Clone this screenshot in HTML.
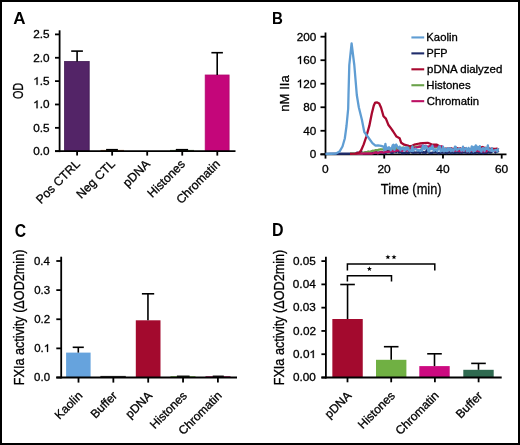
<!DOCTYPE html>
<html><head><meta charset="utf-8"><style>
html,body{margin:0;padding:0;background:#fff;}
svg{display:block;will-change:transform;}
text{font-family:"Liberation Sans", sans-serif;stroke:#000;stroke-width:0.3px;}
</style></head><body>
<svg width="520" height="445" viewBox="0 0 520 445">
<rect x="0" y="0" width="520" height="445" fill="#fff"/>
<text transform="translate(13.37,24.00) scale(0.9830,1)" font-size="17.31" font-weight="bold" style="stroke:none" fill="#000">A</text>
<text transform="translate(272.08,24.00) scale(0.8862,1)" font-size="17.02" font-weight="bold" style="stroke:none" fill="#000">B</text>
<text transform="translate(14.67,236.52) scale(0.8624,1)" font-size="18.23" font-weight="bold" style="stroke:none" fill="#000">C</text>
<text transform="translate(272.02,236.30) scale(0.9167,1)" font-size="17.45" font-weight="bold" style="stroke:none" fill="#000">D</text>
<rect x="64.60" y="61.50" width="24.60" height="89.70" fill="#532467" stroke="#3f1852" stroke-width="0.8"/>
<rect x="205.20" y="75.00" width="23.90" height="76.20" fill="#c4067a" stroke="#b0086e" stroke-width="0.8"/>
<rect x="100.50" y="149.90" width="23.50" height="1.30" fill="#9a6a40"/>
<rect x="170.00" y="149.90" width="24.00" height="1.30" fill="#5a7a4a"/>
<line x1="77.10" y1="61.50" x2="77.10" y2="51.10" stroke="#000" stroke-width="1.6" stroke-linecap="butt"/>
<line x1="71.20" y1="51.10" x2="82.90" y2="51.10" stroke="#000" stroke-width="1.6" stroke-linecap="butt"/>
<line x1="217.20" y1="75.00" x2="217.20" y2="52.70" stroke="#000" stroke-width="1.6" stroke-linecap="butt"/>
<line x1="211.40" y1="52.70" x2="222.90" y2="52.70" stroke="#000" stroke-width="1.6" stroke-linecap="butt"/>
<line x1="106.10" y1="149.80" x2="117.90" y2="149.80" stroke="#000" stroke-width="1.8" stroke-linecap="butt"/>
<line x1="175.80" y1="149.80" x2="188.10" y2="149.80" stroke="#000" stroke-width="1.8" stroke-linecap="butt"/>
<line x1="59.60" y1="30.30" x2="59.60" y2="152.10" stroke="#000" stroke-width="1.8" stroke-linecap="butt"/>
<line x1="55.00" y1="151.20" x2="235.50" y2="151.20" stroke="#000" stroke-width="1.8" stroke-linecap="butt"/>
<line x1="55.00" y1="151.20" x2="59.60" y2="151.20" stroke="#000" stroke-width="1.8" stroke-linecap="butt"/>
<line x1="55.00" y1="127.84" x2="59.60" y2="127.84" stroke="#000" stroke-width="1.8" stroke-linecap="butt"/>
<line x1="55.00" y1="104.48" x2="59.60" y2="104.48" stroke="#000" stroke-width="1.8" stroke-linecap="butt"/>
<line x1="55.00" y1="81.12" x2="59.60" y2="81.12" stroke="#000" stroke-width="1.8" stroke-linecap="butt"/>
<line x1="55.00" y1="57.76" x2="59.60" y2="57.76" stroke="#000" stroke-width="1.8" stroke-linecap="butt"/>
<line x1="55.00" y1="34.40" x2="59.60" y2="34.40" stroke="#000" stroke-width="1.8" stroke-linecap="butt"/>
<line x1="77.10" y1="151.20" x2="77.10" y2="155.60" stroke="#000" stroke-width="1.8" stroke-linecap="butt"/>
<line x1="112.15" y1="151.20" x2="112.15" y2="155.60" stroke="#000" stroke-width="1.8" stroke-linecap="butt"/>
<line x1="147.20" y1="151.20" x2="147.20" y2="155.60" stroke="#000" stroke-width="1.8" stroke-linecap="butt"/>
<line x1="182.25" y1="151.20" x2="182.25" y2="155.60" stroke="#000" stroke-width="1.8" stroke-linecap="butt"/>
<line x1="217.30" y1="151.20" x2="217.30" y2="155.60" stroke="#000" stroke-width="1.8" stroke-linecap="butt"/>
<text transform="translate(33.18,154.95) scale(1.0800,1)" font-size="10.90" fill="#000">0.0</text>
<text transform="translate(33.21,131.59) scale(1.0800,1)" font-size="10.90" fill="#000">0.5</text>
<polygon points="36.51,108.23 37.56,108.23 37.56,100.51 36.85,100.51 36.36,101.12 35.42,101.82 34.41,102.29 34.41,103.19 35.18,102.89 36.00,102.45 36.51,102.07" fill="#000" stroke="#000" stroke-width="0.3" stroke-linejoin="round"/>
<text transform="translate(39.72,108.23) scale(1.0800,1)" font-size="10.90" fill="#000">.</text>
<text transform="translate(43.00,108.23) scale(1.0800,1)" font-size="10.90" fill="#000">0</text>
<polygon points="36.54,84.87 37.59,84.87 37.59,77.15 36.88,77.15 36.39,77.76 35.44,78.46 34.44,78.93 34.44,79.83 35.21,79.53 36.03,79.09 36.54,78.71" fill="#000" stroke="#000" stroke-width="0.3" stroke-linejoin="round"/>
<text transform="translate(39.75,84.87) scale(1.0800,1)" font-size="10.90" fill="#000">.</text>
<text transform="translate(43.03,84.87) scale(1.0800,1)" font-size="10.90" fill="#000">5</text>
<text transform="translate(33.18,61.51) scale(1.0800,1)" font-size="10.90" fill="#000">2.0</text>
<text transform="translate(33.21,38.15) scale(1.0800,1)" font-size="10.90" fill="#000">2.5</text>
<text transform="translate(23.46,99.12) rotate(-90) scale(0.7553,1)" font-size="14.42" fill="#000">OD</text>
<text transform="translate(80.70,164.80) rotate(-45) scale(1.0000,1)" font-size="12.20" text-anchor="end" fill="#000">Pos CTRL</text>
<text transform="translate(115.75,164.80) rotate(-45) scale(1.0000,1)" font-size="12.20" text-anchor="end" fill="#000">Neg CTL</text>
<text transform="translate(150.80,164.80) rotate(-45) scale(1.0000,1)" font-size="12.20" text-anchor="end" fill="#000">pDNA</text>
<text transform="translate(185.85,164.80) rotate(-45) scale(1.0000,1)" font-size="12.20" text-anchor="end" fill="#000">Histones</text>
<text transform="translate(220.90,164.80) rotate(-45) scale(1.0000,1)" font-size="12.20" text-anchor="end" fill="#000">Chromatin</text>
<line x1="325.50" y1="32.50" x2="325.50" y2="155.20" stroke="#000" stroke-width="1.8" stroke-linecap="butt"/>
<line x1="320.50" y1="154.30" x2="506.50" y2="154.30" stroke="#000" stroke-width="1.8" stroke-linecap="butt"/>
<line x1="320.50" y1="154.30" x2="325.50" y2="154.30" stroke="#000" stroke-width="1.8" stroke-linecap="butt"/>
<text transform="translate(309.72,158.12) scale(1.0300,1)" font-size="11.40" fill="#000">0</text>
<line x1="320.50" y1="130.78" x2="325.50" y2="130.78" stroke="#000" stroke-width="1.8" stroke-linecap="butt"/>
<text transform="translate(303.21,134.60) scale(1.0300,1)" font-size="11.40" fill="#000">40</text>
<line x1="320.50" y1="107.26" x2="325.50" y2="107.26" stroke="#000" stroke-width="1.8" stroke-linecap="butt"/>
<text transform="translate(303.21,111.08) scale(1.0300,1)" font-size="11.40" fill="#000">80</text>
<line x1="320.50" y1="83.74" x2="325.50" y2="83.74" stroke="#000" stroke-width="1.8" stroke-linecap="butt"/>
<polygon points="299.98,87.56 301.03,87.56 301.03,79.49 300.32,79.49 299.83,80.13 298.89,80.86 297.89,81.35 297.89,82.29 298.66,81.98 299.48,81.52 299.98,81.12" fill="#000" stroke="#000" stroke-width="0.3" stroke-linejoin="round"/>
<text transform="translate(303.19,87.56) scale(1.0300,1)" font-size="11.40" fill="#000">2</text>
<text transform="translate(309.72,87.56) scale(1.0300,1)" font-size="11.40" fill="#000">0</text>
<line x1="320.50" y1="60.22" x2="325.50" y2="60.22" stroke="#000" stroke-width="1.8" stroke-linecap="butt"/>
<polygon points="299.98,64.04 301.03,64.04 301.03,55.97 300.32,55.97 299.83,56.61 298.89,57.34 297.89,57.83 297.89,58.77 298.66,58.46 299.48,58.00 299.98,57.60" fill="#000" stroke="#000" stroke-width="0.3" stroke-linejoin="round"/>
<text transform="translate(303.19,64.04) scale(1.0300,1)" font-size="11.40" fill="#000">6</text>
<text transform="translate(309.72,64.04) scale(1.0300,1)" font-size="11.40" fill="#000">0</text>
<line x1="320.50" y1="36.70" x2="325.50" y2="36.70" stroke="#000" stroke-width="1.8" stroke-linecap="butt"/>
<text transform="translate(296.66,40.52) scale(1.0300,1)" font-size="11.40" fill="#000">200</text>
<line x1="325.50" y1="154.30" x2="325.50" y2="158.60" stroke="#000" stroke-width="1.8" stroke-linecap="butt"/>
<text transform="translate(322.06,173.42) scale(1.0500,1)" font-size="11.40" fill="#000">0</text>
<line x1="384.23" y1="154.30" x2="384.23" y2="158.60" stroke="#000" stroke-width="1.8" stroke-linecap="butt"/>
<text transform="translate(377.42,173.42) scale(1.0500,1)" font-size="11.40" fill="#000">20</text>
<line x1="442.97" y1="154.30" x2="442.97" y2="158.60" stroke="#000" stroke-width="1.8" stroke-linecap="butt"/>
<text transform="translate(436.31,173.42) scale(1.0500,1)" font-size="11.40" fill="#000">40</text>
<line x1="501.70" y1="154.30" x2="501.70" y2="158.60" stroke="#000" stroke-width="1.8" stroke-linecap="butt"/>
<text transform="translate(494.88,173.42) scale(1.0500,1)" font-size="11.40" fill="#000">60</text>
<text transform="translate(380.81,194.41) scale(0.8604,1)" font-size="14.91" fill="#000">Time (min)</text>
<text transform="translate(289.27,111.69) rotate(-90) scale(0.9748,1)" font-size="13.48" fill="#000">nM IIa</text>
<line x1="411.40" y1="37.45" x2="424.20" y2="37.45" stroke="#5f9dd3" stroke-width="2.1" stroke-linecap="butt"/>
<text transform="translate(426.37,41.05) scale(1.0719,1)" font-size="10.5" fill="#000">Kaolin</text>
<line x1="411.40" y1="53.38" x2="424.20" y2="53.38" stroke="#1f2c6b" stroke-width="2.1" stroke-linecap="butt"/>
<text transform="translate(426.41,56.98) scale(1.0313,1)" font-size="10.5" fill="#000">PFP</text>
<line x1="411.40" y1="69.31" x2="424.20" y2="69.31" stroke="#a8082f" stroke-width="2.1" stroke-linecap="butt"/>
<text transform="translate(427.05,72.91) scale(1.0946,1)" font-size="10.5" fill="#000">pDNA dialyzed</text>
<line x1="411.40" y1="85.24" x2="424.20" y2="85.24" stroke="#6aa24a" stroke-width="2.1" stroke-linecap="butt"/>
<text transform="translate(426.36,88.84) scale(1.0856,1)" font-size="10.5" fill="#000">Histones</text>
<line x1="411.40" y1="101.17" x2="424.20" y2="101.17" stroke="#bc1163" stroke-width="2.1" stroke-linecap="butt"/>
<text transform="translate(426.73,104.77) scale(1.0800,1)" font-size="10.5" fill="#000">Chromatin</text>
<polyline points="325.50,153.90 356.00,153.50 357.00,152.75 358.40,152.95 359.80,152.89 361.20,152.03 362.60,153.13 364.00,153.08 365.40,152.56 366.80,152.65 368.20,152.02 369.60,152.34 371.00,152.92 372.40,152.96 373.80,152.74 375.20,152.00 376.60,152.25 378.00,153.18 379.40,152.35 380.80,152.65 382.20,152.25 383.60,152.83 385.00,153.07 386.40,152.43 387.80,150.44 389.20,149.99 390.60,152.41 392.00,152.98 393.40,152.38 394.80,149.63 396.20,152.03 397.60,149.85 399.00,152.44 400.40,150.58 401.80,153.15 403.20,152.91 404.60,153.13 406.00,152.43 407.40,152.93 408.80,152.90 410.20,149.67 411.60,152.11 413.00,152.73 414.40,152.41 415.80,152.65 417.20,152.38 418.60,152.09 420.00,152.83 421.40,149.62 422.80,152.64 424.20,152.28 425.60,152.99 427.00,149.70 428.40,152.04 429.80,153.01 431.20,152.88 432.60,152.76 434.00,152.13 435.40,152.18 436.80,152.35 438.20,153.20 439.60,153.17 441.00,152.59 442.40,152.57 443.80,152.48 445.20,152.45 446.60,153.15 448.00,152.60 449.40,152.11 450.80,152.94 452.20,152.43 453.60,152.93 455.00,152.80 456.40,152.44 457.80,152.34 459.20,152.92 460.60,152.35 462.00,152.78 463.40,152.01 464.80,152.30 466.20,152.56 467.60,152.78 469.00,152.42 470.40,152.89 471.80,152.42 473.20,153.04 474.60,153.17 476.00,152.62 477.40,152.20 478.80,153.12 480.20,152.83 481.60,152.88 483.00,152.94 484.40,152.80 485.80,152.75 487.20,152.76 488.60,152.03 490.00,152.53 491.40,152.26 492.80,150.23 494.20,150.64 495.60,152.38 497.00,150.24 498.40,152.46" fill="none" stroke="#1f2c6b" stroke-width="2.4" stroke-linejoin="round" stroke-linecap="butt"/>
<polyline points="350.00,153.70 362.00,153.50 363.00,152.82 364.60,152.35 366.20,152.55 367.80,151.67 369.40,151.83 371.00,151.35 372.60,150.74 374.20,150.89 375.80,150.12 377.40,150.21 379.00,149.55 380.60,149.27 382.20,149.44 383.80,149.74 385.40,148.93 387.00,148.92 388.60,149.22 390.20,149.43 391.80,148.96 393.40,148.67 395.00,149.14 396.60,148.11 398.20,148.81 399.80,148.14 401.40,147.88 403.00,147.75 404.60,147.84 406.20,148.24 407.80,147.49 409.40,147.79 411.00,147.74 412.60,147.37 414.20,147.43 415.80,146.84 417.40,146.73 419.00,146.77 420.60,147.19 422.20,146.95 423.80,146.86 425.40,147.15 427.00,147.03 428.60,146.90 430.20,147.41 431.80,147.33 433.40,146.89 435.00,147.24 436.60,147.21 438.20,147.64 439.80,148.01 441.40,148.09 443.00,149.31 444.60,148.96 446.20,149.72 447.80,150.07 449.40,149.48 451.00,149.84 452.60,149.40 454.20,150.05 455.80,150.16 457.40,149.98 459.00,150.30 460.60,149.75 462.20,150.15 463.80,150.06 465.40,150.06 467.00,149.95 468.60,150.35 470.20,150.47 471.80,150.02 473.40,150.22 475.00,149.63 476.60,150.29 478.20,150.25 479.80,150.61 481.40,150.46 483.00,149.93 484.60,150.05 486.20,150.35 487.80,149.72 489.40,150.17 491.00,149.89 492.60,149.86 494.20,149.81 495.80,150.54 497.40,149.91" fill="none" stroke="#6aa24a" stroke-width="2.3" stroke-linejoin="round" stroke-linecap="butt"/>
<polyline points="355.00,153.70 372.00,153.50 373.00,153.26 374.60,152.70 376.20,152.37 377.80,153.28 379.40,152.70 381.00,151.91 382.60,152.54 384.20,152.40 385.80,151.65 387.40,151.80 389.00,151.74 390.60,151.32 392.20,150.81 393.80,151.33 395.40,150.87 397.00,150.56 398.60,150.45 400.20,150.22 401.80,150.91 403.40,150.18 405.00,149.63 406.60,150.56 408.20,150.06 409.80,149.91 411.40,148.03 413.00,147.45 414.60,148.14 416.20,147.47 417.80,147.16 419.40,146.51 421.00,146.32 422.60,145.64 424.20,146.28 425.80,145.86 427.40,146.72 429.00,146.35 430.60,145.77 432.20,145.52 433.80,146.26 435.40,146.36 437.00,145.83 438.60,146.44 440.20,147.12 441.80,146.30 443.40,148.83 445.00,149.59 446.60,150.30 448.20,150.68 449.80,148.71 451.40,150.92 453.00,150.82 454.60,150.87 456.20,150.27 457.80,150.49 459.40,151.06 461.00,150.84 462.60,151.07 464.20,150.13 465.80,150.29 467.40,151.29 469.00,150.13 470.60,150.38 472.20,150.88 473.80,150.59 475.40,150.85 477.00,150.30 478.60,151.04 480.20,150.76 481.80,151.15 483.40,151.32 485.00,151.13 486.60,151.34 488.20,149.28 489.80,150.52 491.40,150.43 493.00,149.60 494.60,150.91 496.20,150.84 497.80,150.97" fill="none" stroke="#bc1163" stroke-width="2.3" stroke-linejoin="round" stroke-linecap="butt"/>
<polyline points="350.00,153.80 356.00,153.60 359.50,152.40 361.30,150.00 363.70,144.40 366.20,137.00 369.30,125.90 371.80,113.50 373.80,105.50 375.20,102.60 377.20,102.50 379.20,103.50 381.10,107.70 383.50,116.20 385.90,118.60 388.30,124.70 391.40,128.90 393.20,131.50 396.50,136.60 399.60,138.20 401.20,142.80 404.20,144.70 408.80,145.80 411.20,146.20 414.20,144.70 419.60,143.50 423.00,143.20 427.70,142.80 431.50,144.30 436.90,144.70 440.00,146.50 441.00,148.43 442.60,148.61 444.20,149.15 445.80,148.53 447.40,148.62 449.00,148.76 450.60,148.22 452.20,148.71 453.80,148.90 455.40,149.16 457.00,148.21 458.60,148.53 460.20,148.26 461.80,149.29 463.40,149.16 465.00,148.27 466.60,149.62 468.20,149.62 469.80,149.21 471.40,149.00 473.00,148.17 474.60,147.78 476.20,148.32 477.80,147.47 479.40,147.47 481.00,147.36 482.60,147.02 484.20,147.82 485.80,147.99 487.40,148.75 489.00,148.50 490.60,148.82 492.20,148.70 493.80,149.00 495.40,148.78 497.00,148.60 498.60,149.68" fill="none" stroke="#a8082f" stroke-width="2.3" stroke-linejoin="round" stroke-linecap="butt"/>
<polyline points="325.50,154.00 336.00,153.50 339.50,151.60 342.50,146.50 344.80,138.50 346.50,126.00 348.20,108.50 348.50,95.00 349.30,65.00 351.60,43.40 354.30,65.00 356.80,95.00 358.80,107.30 361.90,119.70 364.30,132.00 368.00,137.00 372.40,143.10 375.50,145.60 378.00,145.40 381.00,145.80 383.50,146.60 384.50,150.14 385.40,143.83 386.30,149.35 387.20,147.81 388.10,148.88 389.00,147.27 389.90,148.12 390.80,150.28 391.70,148.66 392.60,145.45 393.50,144.74 394.40,149.91 395.30,145.45 396.20,144.48 398.00,148.00 398.80,148.52 399.60,146.60 400.40,150.32 401.20,148.03 402.00,148.94 402.80,148.98 403.60,147.75 404.40,150.49 405.20,150.01 406.00,147.45 406.80,149.47 407.60,147.35 408.40,149.04 409.20,150.59 410.00,150.76 410.80,150.32 411.60,150.84 412.40,146.45 413.20,150.98 414.00,149.70 414.80,149.26 415.60,148.67 416.40,149.57 417.20,149.95 418.00,150.63 418.80,149.93 419.60,150.66 420.40,150.84 421.20,150.13 422.00,150.59 422.80,145.58 423.60,145.68 424.40,149.03 425.20,148.60 426.00,146.02 426.80,147.68 427.60,148.78 428.40,151.27 429.20,151.35 430.00,147.86 430.80,147.70 431.60,149.14 432.40,145.72 433.20,148.81 434.00,151.04 434.80,149.40 435.60,150.11 436.40,149.80 437.20,151.26 439.00,146.39 439.80,146.38 440.60,151.39 441.40,150.81 442.20,149.94 443.00,146.71 443.80,151.42 444.60,150.97 445.40,148.64 446.20,150.28 447.00,151.15 447.80,148.23 448.60,150.45 449.40,148.58 450.20,148.24 451.00,151.19 451.80,149.04 452.60,150.07 453.40,151.12 454.20,149.47 455.00,146.55 455.80,147.02 456.60,150.28 457.40,149.93 458.20,149.20 459.00,148.64 459.80,148.67 460.60,148.95 461.40,150.74 462.20,150.02 463.00,146.69 463.80,150.81 464.60,148.80 465.40,148.57 466.20,148.06 467.00,151.30 467.80,150.69 468.60,147.97 469.40,151.57 470.20,149.46 471.00,150.26 471.80,146.30 472.60,148.42 473.40,151.55 474.20,146.79 475.00,150.88 475.80,145.33 476.60,149.51 477.40,146.80 478.20,147.03 479.00,149.76 479.80,146.15 480.60,150.84 481.40,151.65 482.20,148.82 483.00,148.04 483.80,148.84 484.60,151.06 485.40,148.02 486.20,148.82 487.00,148.78 487.80,145.43 488.60,150.05 489.40,149.43 490.20,150.39 491.00,150.73 491.80,148.25 492.60,151.22 493.40,151.41 494.20,150.40 495.00,150.34 495.80,149.91 496.60,150.51 497.40,151.41 498.20,148.18" fill="none" stroke="#5f9dd3" stroke-width="2.3" stroke-linejoin="round" stroke-linecap="butt"/>
<rect x="66.10" y="352.60" width="24.50" height="24.90" fill="#66a3dd"/>
<rect x="135.80" y="320.30" width="24.70" height="57.20" fill="#a30a2e"/>
<rect x="100.40" y="375.90" width="25.40" height="1.60" fill="#333"/>
<rect x="170.50" y="376.00" width="25.00" height="1.50" fill="#8abf6a"/>
<line x1="176.90" y1="376.20" x2="189.60" y2="376.20" stroke="#000" stroke-width="1.3" stroke-linecap="butt"/>
<rect x="205.50" y="376.00" width="25.00" height="1.50" fill="#b04a7a"/>
<line x1="212.70" y1="376.20" x2="223.80" y2="376.20" stroke="#000" stroke-width="1.3" stroke-linecap="butt"/>
<line x1="78.30" y1="352.60" x2="78.30" y2="347.30" stroke="#000" stroke-width="1.6" stroke-linecap="butt"/>
<line x1="72.70" y1="347.30" x2="83.80" y2="347.30" stroke="#000" stroke-width="1.6" stroke-linecap="butt"/>
<line x1="147.95" y1="320.30" x2="147.95" y2="293.80" stroke="#000" stroke-width="1.6" stroke-linecap="butt"/>
<line x1="141.90" y1="293.80" x2="154.20" y2="293.80" stroke="#000" stroke-width="1.6" stroke-linecap="butt"/>
<line x1="61.20" y1="256.70" x2="61.20" y2="378.40" stroke="#000" stroke-width="1.8" stroke-linecap="butt"/>
<line x1="56.30" y1="377.50" x2="237.00" y2="377.50" stroke="#000" stroke-width="1.8" stroke-linecap="butt"/>
<line x1="56.30" y1="377.50" x2="61.20" y2="377.50" stroke="#000" stroke-width="1.8" stroke-linecap="butt"/>
<text transform="translate(34.12,381.05) scale(1.0500,1)" font-size="10.90" fill="#000">0.0</text>
<line x1="56.30" y1="348.38" x2="61.20" y2="348.38" stroke="#000" stroke-width="1.8" stroke-linecap="butt"/>
<text transform="translate(34.24,351.92) scale(1.0500,1)" font-size="10.90" fill="#000">0</text>
<text transform="translate(40.60,351.92) scale(1.0500,1)" font-size="10.90" fill="#000">.</text>
<polygon points="47.02,351.92 48.04,351.92 48.04,344.21 47.35,344.21 46.87,344.82 45.95,345.52 44.98,345.98 44.98,346.89 45.73,346.58 46.53,346.15 47.02,345.77" fill="#000" stroke="#000" stroke-width="0.3" stroke-linejoin="round"/>
<line x1="56.30" y1="319.25" x2="61.20" y2="319.25" stroke="#000" stroke-width="1.8" stroke-linecap="butt"/>
<text transform="translate(34.26,322.80) scale(1.0500,1)" font-size="10.90" fill="#000">0.2</text>
<line x1="56.30" y1="290.12" x2="61.20" y2="290.12" stroke="#000" stroke-width="1.8" stroke-linecap="butt"/>
<text transform="translate(34.18,293.67) scale(1.0500,1)" font-size="10.90" fill="#000">0.3</text>
<line x1="56.30" y1="261.00" x2="61.20" y2="261.00" stroke="#000" stroke-width="1.8" stroke-linecap="butt"/>
<text transform="translate(34.01,264.55) scale(1.0500,1)" font-size="10.90" fill="#000">0.4</text>
<line x1="78.50" y1="377.50" x2="78.50" y2="382.60" stroke="#000" stroke-width="1.8" stroke-linecap="butt"/>
<line x1="113.35" y1="377.50" x2="113.35" y2="382.60" stroke="#000" stroke-width="1.8" stroke-linecap="butt"/>
<line x1="148.20" y1="377.50" x2="148.20" y2="382.60" stroke="#000" stroke-width="1.8" stroke-linecap="butt"/>
<line x1="183.05" y1="377.50" x2="183.05" y2="382.60" stroke="#000" stroke-width="1.8" stroke-linecap="butt"/>
<line x1="217.90" y1="377.50" x2="217.90" y2="382.60" stroke="#000" stroke-width="1.8" stroke-linecap="butt"/>
<text transform="translate(23.75,385.24) rotate(-90) scale(0.9227,1)" font-size="13.73" fill="#000">FXIa activity (ΔOD2min)</text>
<text transform="translate(83.10,396.40) rotate(-45) scale(1.0000,1)" font-size="12.00" text-anchor="end" fill="#000">Kaolin</text>
<text transform="translate(117.95,396.40) rotate(-45) scale(1.0000,1)" font-size="12.00" text-anchor="end" fill="#000">Buffer</text>
<text transform="translate(152.80,396.40) rotate(-45) scale(1.0000,1)" font-size="12.00" text-anchor="end" fill="#000">pDNA</text>
<text transform="translate(187.65,396.40) rotate(-45) scale(1.0000,1)" font-size="12.00" text-anchor="end" fill="#000">Histones</text>
<text transform="translate(222.50,396.40) rotate(-45) scale(1.0000,1)" font-size="12.00" text-anchor="end" fill="#000">Chromatin</text>
<rect x="332.35" y="319.00" width="30.40" height="58.50" fill="#a30a2e"/>
<line x1="347.55" y1="319.00" x2="347.55" y2="284.50" stroke="#000" stroke-width="1.6" stroke-linecap="butt"/>
<line x1="340.25" y1="284.50" x2="354.85" y2="284.50" stroke="#000" stroke-width="1.6" stroke-linecap="butt"/>
<rect x="376.00" y="359.80" width="30.40" height="17.70" fill="#70b043"/>
<line x1="391.20" y1="359.80" x2="391.20" y2="346.70" stroke="#000" stroke-width="1.6" stroke-linecap="butt"/>
<line x1="383.90" y1="346.70" x2="398.50" y2="346.70" stroke="#000" stroke-width="1.6" stroke-linecap="butt"/>
<rect x="419.30" y="366.10" width="30.40" height="11.40" fill="#cc0a80"/>
<line x1="434.50" y1="366.10" x2="434.50" y2="353.80" stroke="#000" stroke-width="1.6" stroke-linecap="butt"/>
<line x1="427.20" y1="353.80" x2="441.80" y2="353.80" stroke="#000" stroke-width="1.6" stroke-linecap="butt"/>
<rect x="463.30" y="369.80" width="30.40" height="7.70" fill="#2f6a50"/>
<line x1="478.50" y1="369.80" x2="478.50" y2="363.40" stroke="#000" stroke-width="1.6" stroke-linecap="butt"/>
<line x1="471.20" y1="363.40" x2="485.80" y2="363.40" stroke="#000" stroke-width="1.6" stroke-linecap="butt"/>
<line x1="325.90" y1="256.70" x2="325.90" y2="378.40" stroke="#000" stroke-width="1.8" stroke-linecap="butt"/>
<line x1="321.40" y1="377.50" x2="501.70" y2="377.50" stroke="#000" stroke-width="1.8" stroke-linecap="butt"/>
<line x1="321.40" y1="377.50" x2="325.90" y2="377.50" stroke="#000" stroke-width="1.8" stroke-linecap="butt"/>
<text transform="translate(292.94,381.22) scale(1.0900,1)" font-size="10.80" fill="#000">0.00</text>
<line x1="321.40" y1="354.22" x2="325.90" y2="354.22" stroke="#000" stroke-width="1.8" stroke-linecap="butt"/>
<text transform="translate(293.06,357.94) scale(1.0900,1)" font-size="10.80" fill="#000">0</text>
<text transform="translate(299.61,357.94) scale(1.0900,1)" font-size="10.80" fill="#000">.</text>
<text transform="translate(302.88,357.94) scale(1.0900,1)" font-size="10.80" fill="#000">0</text>
<polygon points="312.76,357.94 313.80,357.94 313.80,350.29 313.10,350.29 312.60,350.89 311.66,351.58 310.66,352.05 310.66,352.95 311.43,352.64 312.25,352.21 312.76,351.83" fill="#000" stroke="#000" stroke-width="0.3" stroke-linejoin="round"/>
<line x1="321.40" y1="330.94" x2="325.90" y2="330.94" stroke="#000" stroke-width="1.8" stroke-linecap="butt"/>
<text transform="translate(293.09,334.66) scale(1.0900,1)" font-size="10.80" fill="#000">0.02</text>
<line x1="321.40" y1="307.66" x2="325.90" y2="307.66" stroke="#000" stroke-width="1.8" stroke-linecap="butt"/>
<text transform="translate(293.00,311.38) scale(1.0900,1)" font-size="10.80" fill="#000">0.03</text>
<line x1="321.40" y1="284.38" x2="325.90" y2="284.38" stroke="#000" stroke-width="1.8" stroke-linecap="butt"/>
<text transform="translate(292.83,288.10) scale(1.0900,1)" font-size="10.80" fill="#000">0.04</text>
<line x1="321.40" y1="261.10" x2="325.90" y2="261.10" stroke="#000" stroke-width="1.8" stroke-linecap="butt"/>
<text transform="translate(292.97,264.82) scale(1.0900,1)" font-size="10.80" fill="#000">0.05</text>
<line x1="347.50" y1="377.50" x2="347.50" y2="382.30" stroke="#000" stroke-width="1.8" stroke-linecap="butt"/>
<line x1="391.20" y1="377.50" x2="391.20" y2="382.30" stroke="#000" stroke-width="1.8" stroke-linecap="butt"/>
<line x1="434.90" y1="377.50" x2="434.90" y2="382.30" stroke="#000" stroke-width="1.8" stroke-linecap="butt"/>
<line x1="478.60" y1="377.50" x2="478.60" y2="382.30" stroke="#000" stroke-width="1.8" stroke-linecap="butt"/>
<text transform="translate(283.65,385.34) rotate(-90) scale(0.9227,1)" font-size="13.73" fill="#000">FXIa activity (ΔOD2min)</text>
<text transform="translate(352.10,396.40) rotate(-45) scale(1.0000,1)" font-size="12.00" text-anchor="end" fill="#000">pDNA</text>
<text transform="translate(395.80,396.40) rotate(-45) scale(1.0000,1)" font-size="12.00" text-anchor="end" fill="#000">Histones</text>
<text transform="translate(439.50,396.40) rotate(-45) scale(1.0000,1)" font-size="12.00" text-anchor="end" fill="#000">Chromatin</text>
<text transform="translate(483.20,396.40) rotate(-45) scale(1.0000,1)" font-size="12.00" text-anchor="end" fill="#000">Buffer</text>
<polyline points="347.4,270.5 347.4,263.9 434.8,263.9 434.8,270.5" fill="none" stroke="#000" stroke-width="1.5"/>
<polyline points="347.4,281.5 347.4,275.8 391.5,275.8 391.5,281.5" fill="none" stroke="#000" stroke-width="1.5"/>
<polygon points="369.40,266.30 370.05,268.06 371.92,268.13 370.45,269.29 370.96,271.09 369.40,270.05 367.84,271.09 368.35,269.29 366.88,268.13 368.75,268.06" fill="#000"/>
<polygon points="387.90,254.50 388.55,256.26 390.42,256.33 388.95,257.49 389.46,259.29 387.90,258.25 386.34,259.29 386.85,257.49 385.38,256.33 387.25,256.26" fill="#000"/>
<polygon points="394.00,254.50 394.65,256.26 396.52,256.33 395.05,257.49 395.56,259.29 394.00,258.25 392.44,259.29 392.95,257.49 391.48,256.33 393.35,256.26" fill="#000"/>
<rect x="1" y="1" width="518" height="443" fill="none" stroke="#000" stroke-width="2"/>
</svg>
</body></html>
